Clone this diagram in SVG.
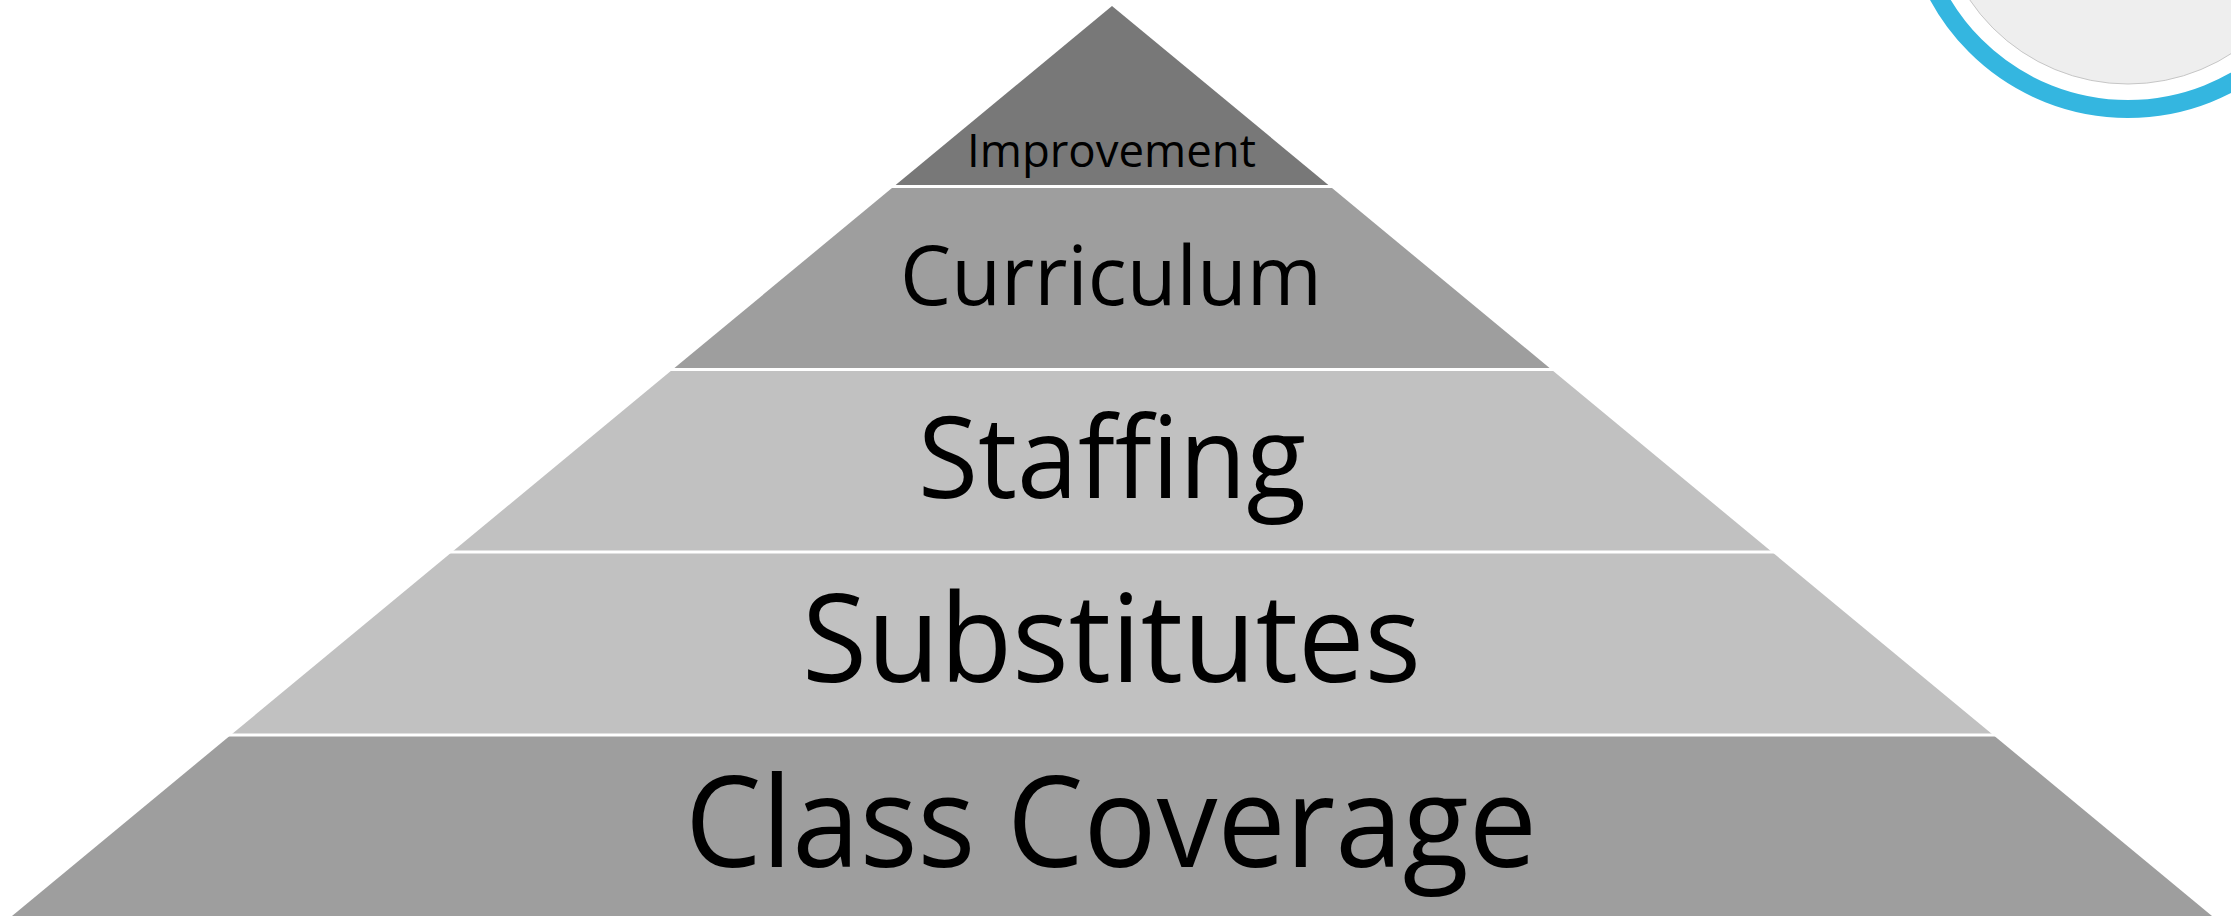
<svg xmlns="http://www.w3.org/2000/svg" width="2231" height="917" viewBox="0 0 2231 917">
  <style>
    .lbl { font-family: "Open Sans", "Noto Sans", "Liberation Sans", sans-serif; fill: #000000; }
    .t-dark { fill: #787878; }
    .t-mid { fill: #9e9e9e; }
    .t-light { fill: #c1c1c1; }
    .gap { stroke: #ffffff; stroke-width: 3; fill: none; }
  </style>
  <rect x="0" y="0" width="2231" height="917" fill="#ffffff"/>

  <g id="badge">
    <circle cx="2128" cy="-107" r="191" fill="#eeeeee" stroke="#c6c6c6" stroke-width="1"/>
    <circle cx="2128" cy="-107" r="216" fill="none" stroke="#34b6e0" stroke-width="18"/>
  </g>

  <g id="tier-improvement">
    <polygon class="t-dark" points="1112,6 1330.2,186.5 893.8,186.5"/>
    <text class="lbl" x="967" y="167" font-size="46" textLength="289" lengthAdjust="spacingAndGlyphs">Improvement</text>
  </g>
  <g id="tier-curriculum">
    <polygon class="t-mid" points="893.8,186.5 1330.2,186.5 1551.4,369.5 672.6,369.5"/>
    <text class="lbl" x="900" y="305" font-size="82" textLength="422" lengthAdjust="spacingAndGlyphs">Curriculum</text>
  </g>
  <g id="tier-staffing">
    <polygon class="t-light" points="672.6,369.5 1551.4,369.5 1772,552 452,552"/>
    <text class="lbl" x="918" y="498" font-size="113" textLength="388" lengthAdjust="spacingAndGlyphs">Staffing</text>
  </g>
  <g id="tier-substitutes">
    <polygon class="t-light" points="452,552 1772,552 1993.2,735 230.8,735"/>
    <text class="lbl" x="802" y="682" font-size="122" textLength="619" lengthAdjust="spacingAndGlyphs">Substitutes</text>
  </g>
  <g id="tier-class-coverage">
    <polygon class="t-mid" points="230.8,735 1993.2,735 2212,916 12,916"/>
    <text class="lbl" x="685" y="867" font-size="126" textLength="852" lengthAdjust="spacingAndGlyphs">Class Coverage</text>
  </g>

  <g id="separators">
    <line class="gap" x1="880" y1="186.5" x2="1344" y2="186.5"/>
    <line class="gap" x1="660" y1="369.5" x2="1564" y2="369.5"/>
    <line class="gap" x1="440" y1="552" x2="1784" y2="552"/>
    <line class="gap" x1="218" y1="735" x2="2006" y2="735"/>
  </g>

  <g id="connectors"/>
</svg>
